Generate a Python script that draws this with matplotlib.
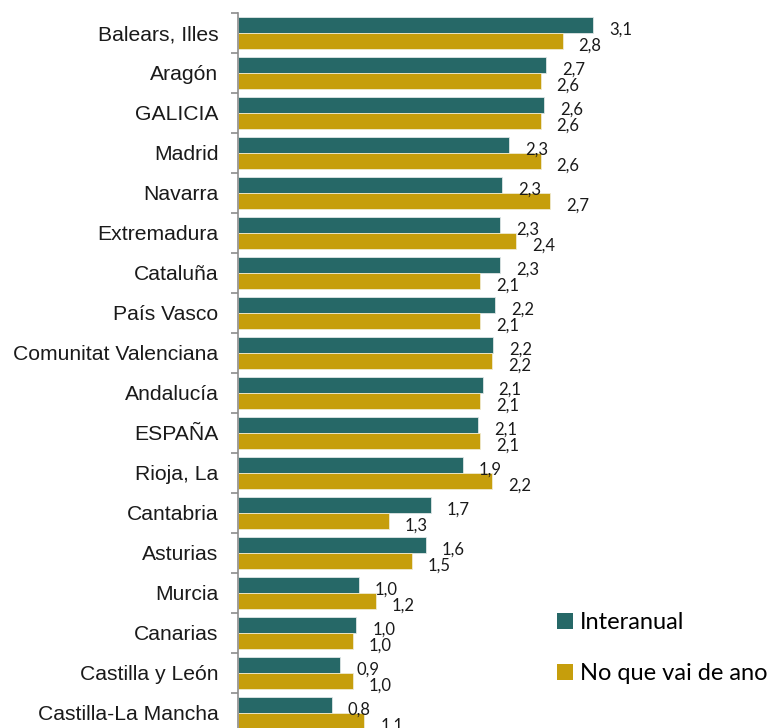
import matplotlib
matplotlib.use('Agg')
import matplotlib.pyplot as plt
from matplotlib.patches import Patch
import numpy as np

# Data
regions = ['Balears, Illes', 'Aragón', 'GALICIA', 'Madrid', 'Navarra', 'Extremadura',
           'Cataluña', 'País Vasco', 'Comunitat Valenciana', 'Andalucía', 'ESPAÑA',
           'Rioja, La', 'Cantabria', 'Asturias', 'Murcia', 'Canarias',
           'Castilla y León', 'Castilla-La Mancha']
interanual = [3.06, 2.66, 2.64, 2.34, 2.28, 2.26, 2.26, 2.22, 2.20, 2.11, 2.07,
              1.94, 1.66, 1.62, 1.04, 1.02, 0.88, 0.81]
no_ano = [2.80, 2.61, 2.61, 2.61, 2.69, 2.40, 2.09, 2.09, 2.19, 2.09, 2.09,
          2.19, 1.30, 1.50, 1.19, 0.99, 0.99, 1.09]
series_names = ['Interanual', 'No que vai de ano']

teal = '#266867'
gold = '#C69E0C'

fig = plt.figure(figsize=(7.76, 7.28), dpi=100)
ax = fig.add_axes([238 / 776, -5 / 728, 0.538, 720 / 728])

y = np.arange(len(regions))
h = 0.39
b1 = ax.barh(y - h / 2, interanual, height=h, color=teal, edgecolor='#dfe6e6', linewidth=0.6)
b2 = ax.barh(y + h / 2, no_ano, height=h, color=gold, edgecolor='#f0ead0', linewidth=0.6)

# Data labels
for bars, vals in ((b1, interanual), (b2, no_ano)):
    for rect, v in zip(bars, vals):
        ax.annotate(f'{v:.1f}'.replace('.', ','),
                    xy=(rect.get_width(), rect.get_y() + rect.get_height() / 2),
                    xytext=(11.5, -3.5), textcoords='offset points',
                    ha='left', va='center', fontsize=12, family='Lato',
                    color='#1a1a1a', annotation_clip=False)

ax.set_xlim(0, 3.6)
ax.set_ylim(len(regions) - 0.5, -0.5)

# Axis styling
for s in ('top', 'right', 'bottom'):
    ax.spines[s].set_visible(False)
ax.spines['left'].set_color('#8c8c8c')
ax.spines['left'].set_linewidth(1.2)
ax.set_xticks([])
ax.set_yticks(y)
ax.set_yticklabels(regions, family='Liberation Sans', fontsize=15.2, color='#1a1a1a')
ax.tick_params(axis='y', which='major', length=0, pad=14)
ax.set_yticks(np.arange(len(regions) + 1) - 0.5, minor=True)
ax.tick_params(axis='y', which='minor', length=5, width=1.2, color='#8c8c8c', direction='out')

# Legend
handles = [Patch(facecolor=teal), Patch(facecolor=gold)]
fig.legend(handles, series_names, loc='upper left', bbox_to_anchor=(548 / 776, 1 - 603 / 728),
           frameon=False, handlelength=0.65, handleheight=0.65, handletextpad=0.3,
           labelspacing=1.25, prop={'family': 'Lato', 'size': 17}, borderaxespad=0)

plt.savefig('out.png', dpi=100)
